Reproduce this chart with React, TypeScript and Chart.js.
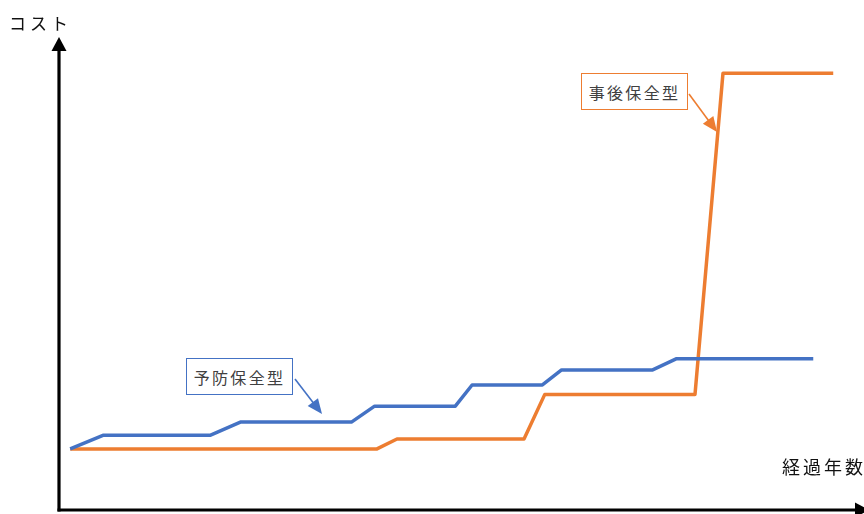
import React, { useEffect, useRef } from "react";
import { Chart, registerables } from "chart.js";

Chart.register(...registerables);

// elapsed years (x, relative units 0-100) and cost (y, relative units 0-100)
const preventiveYears = [1.4, 5.5, 18.9, 22.7, 36.6, 39.5, 49.6, 51.7, 60.5, 62.9, 74.3, 77.3, 94.4];
const preventiveCost = [13.0, 15.9, 15.9, 18.7, 18.7, 22.1, 22.1, 26.6, 26.6, 29.8, 29.8, 32.2, 32.2];
const correctiveYears = [1.4, 39.8, 42.3, 58.2, 60.8, 79.6, 83.1, 96.9];
const correctiveCost = [13.0, 13.0, 15.1, 15.1, 24.6, 24.6, 92.9, 92.9];

const seriesNames = ["予防保全型", "事後保全型"];
const yAxisLabel = "コスト";
const xAxisLabel = "経過年数";

const BLUE = "#4472C4";
const ORANGE = "#ED7D31";
const FONT = '"Noto Sans CJK JP", "Noto Sans", sans-serif';

const zip = (xs: number[], ys: number[]) => xs.map((x, i) => ({ x, y: ys[i] }));

const drawArrow = (
  ctx: CanvasRenderingContext2D,
  x1: number,
  y1: number,
  x2: number,
  y2: number,
  color: string,
  width: number,
  headLen: number,
  headHalf: number
) => {
  const ang = Math.atan2(y2 - y1, x2 - x1);
  const bx = x2 - headLen * Math.cos(ang);
  const by = y2 - headLen * Math.sin(ang);
  ctx.save();
  ctx.strokeStyle = color;
  ctx.fillStyle = color;
  ctx.lineWidth = width;
  ctx.beginPath();
  ctx.moveTo(x1, y1);
  ctx.lineTo(bx + Math.cos(ang), by + Math.sin(ang));
  ctx.stroke();
  ctx.beginPath();
  ctx.moveTo(x2, y2);
  ctx.lineTo(bx + headHalf * Math.sin(ang), by - headHalf * Math.cos(ang));
  ctx.lineTo(bx - headHalf * Math.sin(ang), by + headHalf * Math.cos(ang));
  ctx.closePath();
  ctx.fill();
  ctx.restore();
};

const axesPlugin = {
  id: "arrowAxes",
  beforeDatasetsDraw(chart: any) {
    const { ctx, chartArea } = chart;
    const left = chartArea.left;
    const bottom = chartArea.bottom;
    drawArrow(ctx, left, bottom + 1.5, left, chartArea.top - 3, "#000", 3.2, 14, 7.5);
    drawArrow(ctx, left - 1.5, bottom, chartArea.right + 11, bottom, "#000", 3.2, 14, 7.5);
  },
  afterDatasetsDraw(chart: any) {
    const { ctx } = chart;
    drawArrow(ctx, 689, 94, 717, 132, ORANGE, 1.6, 15, 6.5);
    drawArrow(ctx, 295, 379, 322, 414, BLUE, 1.6, 15, 6.5);
  },
};

export default function App() {
  const ref = useRef<HTMLCanvasElement | null>(null);

  useEffect(() => {
    if (!ref.current) return;
    const chart = new Chart(ref.current, {
      type: "line",
      data: {
        datasets: [
          {
            label: seriesNames[0],
            data: zip(preventiveYears, preventiveCost),
            borderColor: BLUE,
            backgroundColor: BLUE,
            borderWidth: 3.5,
            pointRadius: 0,
            tension: 0,
            borderJoinStyle: "round",
          },
          {
            label: seriesNames[1],
            data: zip(correctiveYears, correctiveCost),
            borderColor: ORANGE,
            backgroundColor: ORANGE,
            borderWidth: 3.5,
            pointRadius: 0,
            tension: 0,
            borderJoinStyle: "round",
          },
        ],
      },
      options: {
        animation: false,
        responsive: false,
        devicePixelRatio: 1,
        layout: { padding: { left: 59, top: 40, right: 6, bottom: 4 } },
        plugins: { legend: { display: false }, tooltip: { enabled: false } },
        scales: {
          x: { type: "linear", display: false, min: 0, max: 100 },
          y: { type: "linear", display: false, min: 0, max: 100 },
        },
      },
      plugins: [axesPlugin],
    });
    return () => chart.destroy();
  }, []);

  const boxStyle = (color: string, left: number, top: number): React.CSSProperties => ({
    position: "absolute",
    left,
    top,
    width: 107,
    height: 37,
    boxSizing: "border-box",
    border: `1.5px solid ${color}`,
    background: "#fff",
    display: "flex",
    alignItems: "center",
    justifyContent: "center",
    fontFamily: FONT,
    fontSize: 16,
    letterSpacing: "2.3px",
    color: "#404040",
    whiteSpace: "nowrap",
  });

  return (
    <div style={{ position: "absolute", left: 0, top: 0, width: 864, height: 514, overflow: "hidden", background: "#fff" }}>
      <canvas ref={ref} width={864} height={514} style={{ position: "absolute", left: 0, top: 0 }} />
      <div
        style={{
          position: "absolute",
          left: 9,
          top: 11,
          fontFamily: FONT,
          fontSize: 17,
          letterSpacing: "4px",
          color: "#111",
          whiteSpace: "nowrap",
          lineHeight: "24px",
        }}
      >
        {yAxisLabel}
      </div>
      <div
        style={{
          position: "absolute",
          left: 782,
          top: 454,
          fontFamily: FONT,
          fontSize: 18,
          letterSpacing: "3px",
          color: "#111",
          whiteSpace: "nowrap",
          lineHeight: "24px",
        }}
      >
        {xAxisLabel}
      </div>
      <div style={boxStyle(ORANGE, 581, 73)}>{seriesNames[1]}</div>
      <div style={boxStyle(BLUE, 186, 358)}>{seriesNames[0]}</div>
    </div>
  );
}
